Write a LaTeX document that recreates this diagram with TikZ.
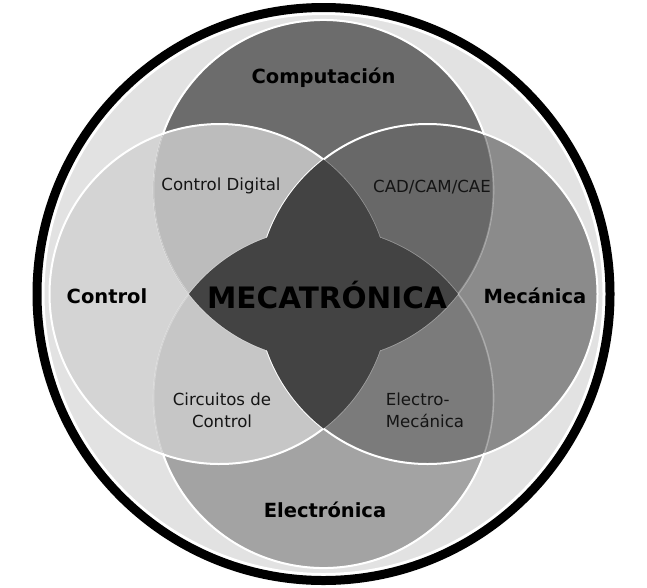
\documentclass[tikz,border=0pt]{standalone}
\usepackage{fontspec}
\setmainfont{DejaVu Sans}
\definecolor{cbg}{HTML}{E2E2E2}
\definecolor{cL}{HTML}{D4D4D4}
\definecolor{cT}{HTML}{6C6C6C}
\definecolor{cR}{HTML}{8B8B8B}
\definecolor{cB}{HTML}{A3A3A3}
\definecolor{cLT}{HTML}{BCBCBC}
\definecolor{cTR}{HTML}{686868}
\definecolor{cLB}{HTML}{C6C6C6}
\definecolor{cRB}{HTML}{7B7B7B}
\definecolor{cstar}{HTML}{434343}
\tikzset{
  brightline/.style={white, line width=2pt},
  faintline/.style={white, opacity=0.3, line width=1.6pt},
  bigtitle/.style={font=\bfseries\fontsize{19.5}{22}\selectfont, text=black},
  smalltxt/.style={font=\fontsize{16.6}{22}\selectfont, text=black!92, align=center},
}
\begin{document}
\begin{tikzpicture}[x=1pt,y=-1pt]
\useasboundingbox (0,0) rectangle (647,587);
\coordinate (O) at (323.5,294);
\coordinate (L) at (219.5,294);
\coordinate (R) at (427.5,294);
\coordinate (T) at (323.5,190);
\coordinate (B) at (323.5,398);
\def\rr{170pt}
% background disc
\fill[cbg] (O) circle (282pt);
% single regions
\fill[cL] (L) circle (\rr);
\fill[cT] (T) circle (\rr);
\fill[cR] (R) circle (\rr);
\fill[cB] (B) circle (\rr);
% pair regions
\begin{scope}
  \clip (L) circle (\rr);
  \fill[cLT] (T) circle (\rr);
  \fill[cLB] (B) circle (\rr);
\end{scope}
\begin{scope}
  \clip (R) circle (\rr);
  \fill[cTR] (T) circle (\rr);
  \fill[cRB] (B) circle (\rr);
\end{scope}
% outlines
\draw[faintline] (T) circle (\rr);
\draw[faintline] (B) circle (\rr);
\draw[brightline] ([shift={(-161.1:170)}]T) arc[start angle=-161.1, end angle=-18.9, radius=170];
\draw[brightline] ([shift={(18.9:170)}]B) arc[start angle=18.9, end angle=161.1, radius=170];
\draw[faintline] ([shift={(-52.3:170)}]L) arc[start angle=-52.3, end angle=52.3, radius=170];
\draw[brightline] ([shift={(52.3:170)}]L) arc[start angle=52.3, end angle=307.7, radius=170];
\draw[brightline] (R) circle (\rr);
% three or more circles: the dark star
\begin{scope}
  \clip (L) circle (\rr);
  \clip (R) circle (\rr);
  \fill[cstar] (T) circle (\rr);
  \fill[cstar] (B) circle (\rr);
\end{scope}
\begin{scope}
  \clip (T) circle (\rr);
  \clip (B) circle (\rr);
  \fill[cstar] (L) circle (\rr);
  \fill[cstar] (R) circle (\rr);
\end{scope}
% outer ring
\draw[white, line width=3pt] (O) circle (280.5pt);
\draw[black, line width=9pt] (O) circle (286.5pt);
% labels
\node[bigtitle] (comp) at (323.5,78) {Computación};
\node[bigtitle] (ctrl) at (107,296) {Control};
\node[bigtitle] (mec) at (535,296) {Mecánica};
\node[bigtitle] (elec) at (325,510) {Electrónica};
\node[font=\bfseries\fontsize{29.5}{32}\selectfont] (meca) at (327,295) {MECATRÓNICA};
\node[smalltxt] (cd) at (221,186) {Control Digital};
\node[smalltxt] (cad) at (432,187) {CAD/CAM/CAE};
\node[smalltxt] (cc) at (222,410) {Circuitos de\\Control};
\node[smalltxt, align=left] (em) at (425,410) {Electro-\\Mecánica};
\end{tikzpicture}
\end{document}
